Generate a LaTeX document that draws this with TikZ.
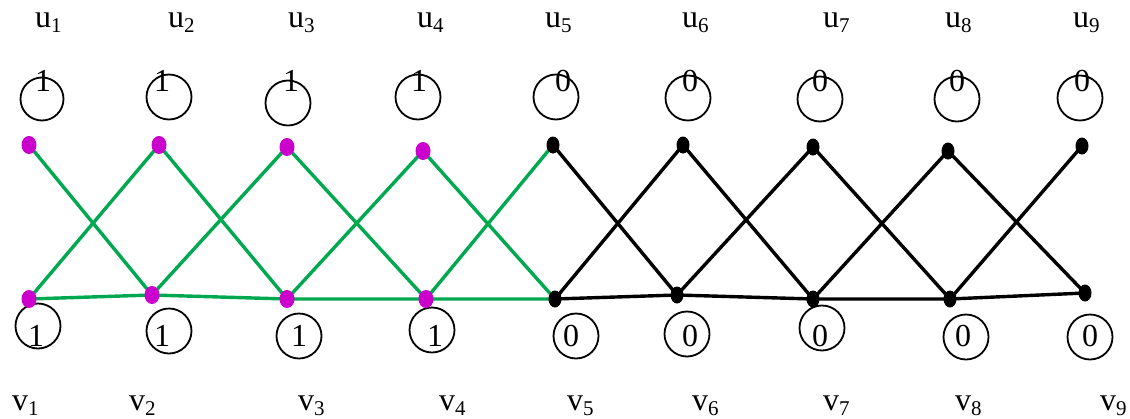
\documentclass[tikz,border=0pt]{standalone}
\usepackage{fontspec}
\setmainfont{Liberation Serif}
\usetikzlibrary{shapes.geometric}
\definecolor{egreen}{RGB}{0,168,80}
\definecolor{dmag}{RGB}{204,0,204}
\newcommand{\lbl}[2]{#1\raisebox{-5pt}{\fontsize{21}{22}\selectfont #2}}
\begin{document}
\begin{tikzpicture}[x=1pt,y=-1pt,
  mdot/.style={ellipse,minimum width=15pt,minimum height=18pt,inner sep=0pt,fill=dmag},
  bdot/.style={ellipse,minimum width=13pt,minimum height=17pt,inner sep=0pt,fill=black},
  ring/.style={circle,draw,line width=1.8pt,minimum size=45pt,inner sep=0pt},
  num/.style={font=\fontsize{32}{33}\selectfont,inner sep=0pt,anchor=base},
  lab/.style={font=\fontsize{32}{33}\selectfont,inner sep=0pt,anchor=base west},
  gedge/.style={draw=egreen,line width=3.4pt},
  bedge/.style={draw=black,line width=3.4pt}]
\useasboundingbox (0,0) rectangle (1130,418);
% labels
\node[lab] (lu1) at (35,27) {\lbl{u}{1}};
\node[lab] (lu2) at (168,27) {\lbl{u}{2}};
\node[lab] (lu3) at (288,27) {\lbl{u}{3}};
\node[lab] (lu4) at (417,27) {\lbl{u}{4}};
\node[lab] (lu5) at (545,27) {\lbl{u}{5}};
\node[lab] (lu6) at (682,27) {\lbl{u}{6}};
\node[lab] (lu7) at (823,27) {\lbl{u}{7}};
\node[lab] (lu8) at (945,27) {\lbl{u}{8}};
\node[lab] (lu9) at (1073,27) {\lbl{u}{9}};
\node[lab] (lv1) at (12,410) {\lbl{v}{1}};
\node[lab] (lv2) at (129,410) {\lbl{v}{2}};
\node[lab] (lv3) at (298,410) {\lbl{v}{3}};
\node[lab] (lv4) at (439,410) {\lbl{v}{4}};
\node[lab] (lv5) at (567,410) {\lbl{v}{5}};
\node[lab] (lv6) at (692,410) {\lbl{v}{6}};
\node[lab] (lv7) at (823,410) {\lbl{v}{7}};
\node[lab] (lv8) at (955,410) {\lbl{v}{8}};
\node[lab] (lv9) at (1100,410) {\lbl{v}{9}};
% top rings
\node[ring,minimum size=43pt] (cu1) at (42,99) {};
\node[ring] (cu2) at (169,97) {};
\node[ring] (cu3) at (288,103) {};
\node[ring] (cu4) at (418,97) {};
\node[ring] (cu5) at (556,97) {};
\node[ring] (cu6) at (688,98) {};
\node[ring] (cu7) at (820,99) {};
\node[ring] (cu8) at (957,99) {};
\node[ring] (cu9) at (1080,98) {};
\node[num] (nu1) at (43,91) {1};
\node[num] (nu2) at (162,91) {1};
\node[num] (nu3) at (291,91) {1};
\node[num] (nu4) at (419,91) {1};
\node[num] (nu5) at (563,91) {0};
\node[num] (nu6) at (690,91) {0};
\node[num] (nu7) at (820,91) {0};
\node[num] (nu8) at (957,91) {0};
\node[num] (nu9) at (1082,91) {0};
% bottom rings
\node[ring] (cv1) at (38,326) {};
\node[ring] (cv2) at (169,331) {};
\node[ring] (cv3) at (299,336) {};
\node[ring] (cv4) at (432,330) {};
\node[ring] (cv5) at (576,336) {};
\node[ring] (cv6) at (687,334) {};
\node[ring] (cv7) at (822,328) {};
\node[ring] (cv8) at (966,337) {};
\node[ring] (cv9) at (1090,337) {};
\node[num] (nv1) at (36,346) {1};
\node[num] (nv2) at (162,346) {1};
\node[num] (nv3) at (299,346) {1};
\node[num] (nv4) at (435,346) {1};
\node[num] (nv5) at (571,346) {0};
\node[num] (nv6) at (690,346) {0};
\node[num] (nv7) at (820,346) {0};
\node[num] (nv8) at (963,346) {0};
\node[num] (nv9) at (1090,346) {0};
% vertex coordinates
\coordinate (u1) at (29,145);
\coordinate (u2) at (159,145);
\coordinate (u3) at (287,147);
\coordinate (u4) at (423,151);
\coordinate (u5) at (553,145);
\coordinate (u6) at (683,145);
\coordinate (u7) at (813,147);
\coordinate (u8) at (948,151);
\coordinate (u9) at (1082,146);
\coordinate (v1) at (29,299);
\coordinate (v2) at (152,295);
\coordinate (v3) at (287,299);
\coordinate (v4) at (426,299);
\coordinate (v5) at (555,299);
\coordinate (v6) at (677,295);
\coordinate (v7) at (813,299);
\coordinate (v8) at (950,299);
\coordinate (v9) at (1085,293);
% edges
\draw[gedge] (u1) -- (v2);
\draw[gedge] (u2) -- (v1);
\draw[gedge] (u2) -- (v3);
\draw[gedge] (u3) -- (v2);
\draw[gedge] (u3) -- (v4);
\draw[gedge] (u4) -- (v3);
\draw[gedge] (u4) -- (v5);
\draw[gedge] (u5) -- (v4);
\draw[gedge] (v1) -- (v2) -- (v3) -- (v4) -- (v5);
\draw[bedge] (u5) -- (v6);
\draw[bedge] (u6) -- (v5);
\draw[bedge] (u6) -- (v7);
\draw[bedge] (u7) -- (v6);
\draw[bedge] (u7) -- (v8);
\draw[bedge] (u8) -- (v7);
\draw[bedge] (u8) -- (v9);
\draw[bedge] (u9) -- (v8);
\draw[bedge] (v5) -- (v6) -- (v7) -- (v8) -- (v9);
% dots
\foreach \p in {u1,u2,u3,u4,v1,v2,v3,v4} \node[mdot] at (\p) {};
\foreach \p in {u5,u6,u7,u8,u9,v5,v6,v7,v8,v9} \node[bdot] at (\p) {};
\end{tikzpicture}
\end{document}
